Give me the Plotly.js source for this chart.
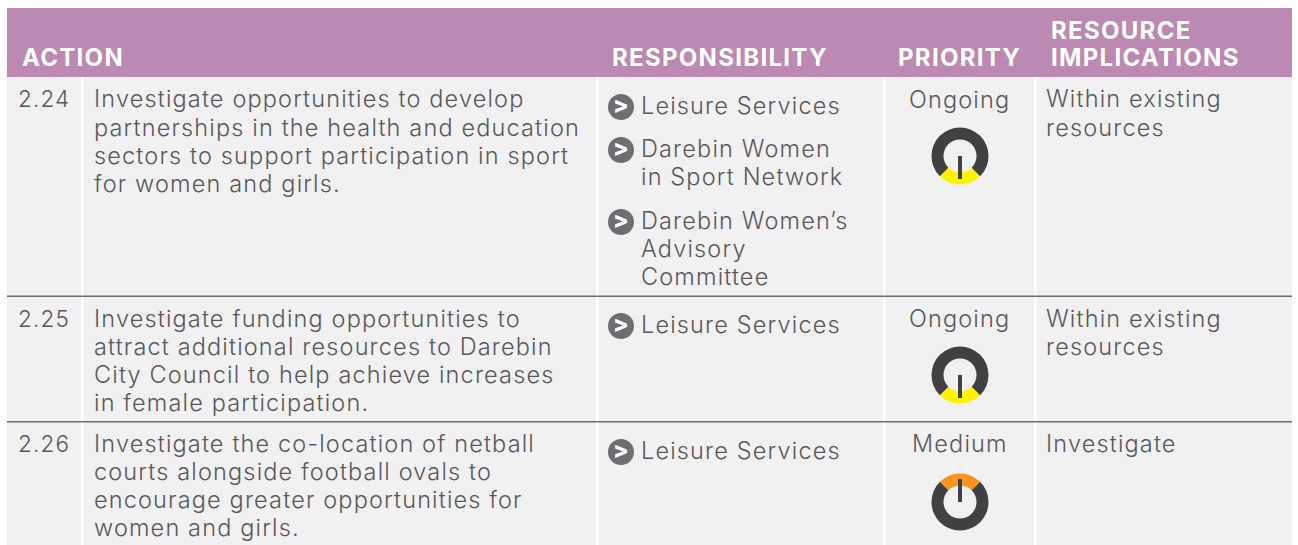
<!DOCTYPE html>
<html><head><meta charset="utf-8">
<script src="https://cdn.plot.ly/plotly-3.0.1.min.js"></script>
<style>html,body{margin:0;padding:0;background:#fff}#c{width:1298px;height:545px}
text.annotation-text{letter-spacing:1.15px}
text.annotation-text[style*="font-weight: 700"]{letter-spacing:1.3px}
</style>
</head><body><div id="c"></div>
<script>
var W=1298,H=545;
var headers=["ACTION","RESPONSIBILITY","PRIORITY","RESOURCE","IMPLICATIONS"];
var headerX=[20,610,896,1048.5,1048.5];
var headerY=[57,57,57,30,57];
var ids=["2.24","2.25","2.26"];
var idY=[98,318,443];
var actionLines=["Investigate opportunities to develop","partnerships in the health and education","sectors to support participation in sport","for women and girls.",
"Investigate funding opportunities to","attract additional resources to Darebin","City Council to help achieve increases","in female participation.",
"Investigate the co-location of netball","courts alongside football ovals to","encourage greater opportunities for","women and girls."];
var actionY=[98,127,155,183,318,346,374,402,443,471,499,527];
var respLines=["Leisure Services","Darebin Women","in Sport Network","Darebin Women’s","Advisory","Committee","Leisure Services","Leisure Services"];
var respY=[105,148,176,220,248,276,324,450];
var bulletY=[107,150,222,326,452];
var priorities=["Ongoing","Ongoing","Medium"];
var priorityY=[99,318,443];
var resourceLines=["Within existing","resources","Within existing","resources","Investigate"];
var resourceY=[98,127,318,346,443];
var gaugeY=[156,375,502];
var gaugeShare=[25,25,25];
var gaugeRest=[75,75,75];
var gaugeRotation=[135,135,-45];
var gaugeColor=["#fff200","#fff200","#f7941d"];
var needleDir=[1,1,-1];
var gaugeX=960,gaugeR=28.5;

var FONT="Inter",BODY=23.5,TXT="#58595b";
var ann=[];
function add(t,x,y,anchor,size,color,weight){ann.push({text:t,x:x,y:y,xref:"x",yref:"y",xanchor:anchor,yanchor:"middle",showarrow:false,align:anchor,
 font:{family:FONT,size:size,color:color,weight:weight}});}
headers.forEach(function(t,i){add(t,headerX[i],headerY[i],"left",24,"#ffffff",700);});
ids.forEach(function(t,i){add(t,16,idY[i],"left",22.5,TXT,300);});
actionLines.forEach(function(t,i){add(t,92,actionY[i],"left",BODY,TXT,300);});
respLines.forEach(function(t,i){add(t,639,respY[i],"left",BODY,TXT,300);});
priorities.forEach(function(t,i){add(t,959.5,priorityY[i],"center",BODY,TXT,300);});
resourceLines.forEach(function(t,i){add(t,1044,resourceY[i],"left",BODY,TXT,300);});

var shapes=[];
function rect(x0,y0,x1,y1,c,layer){shapes.push({type:"rect",xref:"x",yref:"y",x0:x0,x1:x1,y0:y0,y1:y1,fillcolor:c,line:{width:0},layer:layer||"below"});}
rect(7,8,1292,77,"#bb89b1");
rect(7,77,1292,545,"#f1f1f1");
[81,596,883,1034].forEach(function(x){rect(x,77,x+2.5,545,"#ffffff");});
rect(7,295.5,1292,297,"#6d6e71");
rect(7,421,1292,422.5,"#6d6e71");

var traces=[{type:"scatter",mode:"markers+text",x:bulletY.map(function(){return 621;}),y:bulletY,
 marker:{size:26,color:"#6d6e71",line:{width:0}},text:bulletY.map(function(){return ">";}),textposition:"middle center",
 textfont:{family:"Inter",size:23,color:"#ffffff",weight:800},hoverinfo:"skip",showlegend:false}];
gaugeY.forEach(function(cy,i){
 traces.push({type:"pie",values:[gaugeShare[i],gaugeRest[i]],sort:false,direction:"clockwise",rotation:gaugeRotation[i],hole:0.58,
  marker:{colors:[gaugeColor[i],"#414042"],line:{width:0}},textinfo:"none",hoverinfo:"skip",showlegend:false,
  domain:{x:[(gaugeX-gaugeR)/W,(gaugeX+gaugeR)/W],y:[1-(cy+gaugeR)/H,1-(cy-gaugeR)/H]}});
 var y0=cy,y1=cy+needleDir[i]*23;
 shapes.push({type:"rect",xref:"x",yref:"y",x0:gaugeX-2,x1:gaugeX+2,y0:y0,y1:y1,fillcolor:"#414042",line:{width:0},layer:"above"});
});
Plotly.newPlot("c",traces,{width:W,height:H,margin:{l:0,r:0,t:0,b:0,pad:0},paper_bgcolor:"#ffffff",plot_bgcolor:"rgba(0,0,0,0)",showlegend:false,
 xaxis:{range:[0,W],visible:false,fixedrange:true},yaxis:{range:[H,0],visible:false,fixedrange:true},shapes:shapes,annotations:ann},{displayModeBar:false,staticPlot:true});
</script></body></html>
